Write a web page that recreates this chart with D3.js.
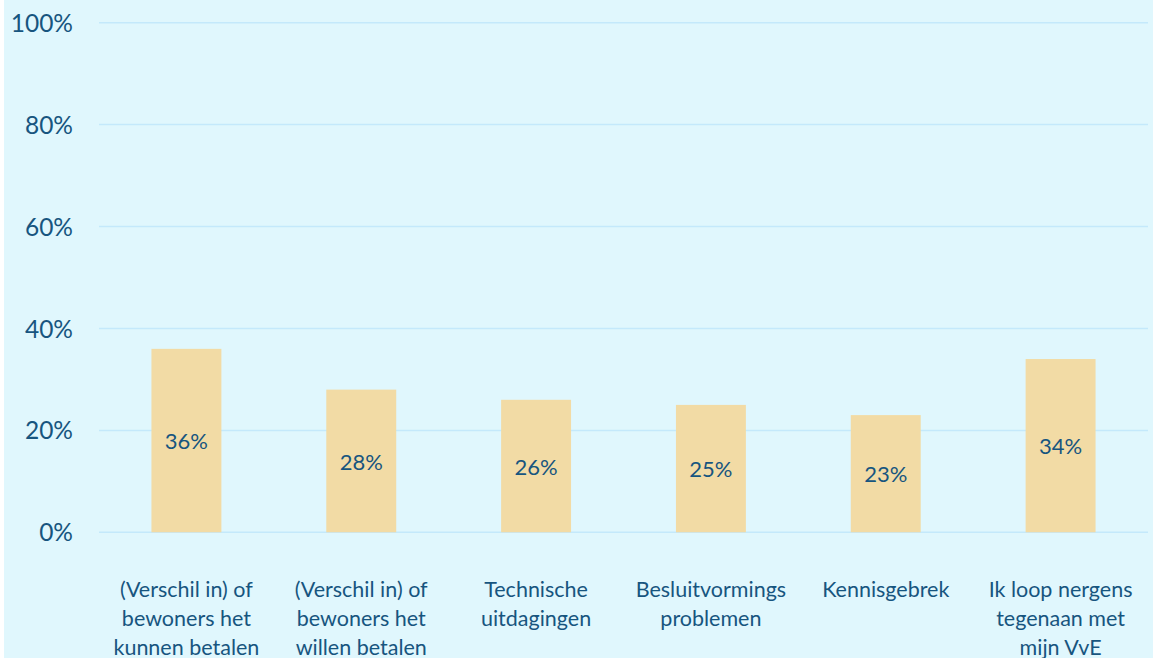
<!DOCTYPE html>
<html><head><meta charset="utf-8">
<script src="https://cdn.jsdelivr.net/npm/d3@7"></script>
<style>
html,body{margin:0;padding:0;background:#fff;}
svg{display:block;}
text{font-family:"Source Sans Pro",Lato,"Noto Sans",sans-serif;fill:#17557f;}
</style></head><body>
<script>
const categories = [
  ["(Verschil in) of","bewoners het","kunnen betalen"],
  ["(Verschil in) of","bewoners het","willen betalen"],
  ["Technische","uitdagingen"],
  ["Besluitvormings","problemen"],
  ["Kennisgebrek"],
  ["Ik loop nergens","tegenaan met","mijn VvE"]
];
const values = [36, 28, 26, 25, 23, 34];
const yTicks = [0, 20, 40, 60, 80, 100];

const W = 1153, H = 658;
const svg = d3.select("body").append("svg").attr("width", W).attr("height", H);
svg.append("rect").attr("x", 4).attr("y", 0).attr("width", W - 4).attr("height", H).attr("fill", "#e0f7fd");

const x = d3.scaleBand().domain(d3.range(categories.length)).range([99, 1148]).paddingInner(0.6).paddingOuter(0.3);
const y = d3.scaleLinear().domain([0, 100]).range([532.3, 22.7]);

const grid = svg.append("g");
grid.selectAll("line").data(yTicks).join("line")
  .attr("x1", 99).attr("x2", 1148)
  .attr("y1", d => y(d)).attr("y2", d => y(d))
  .attr("stroke", "#c4e9fb").attr("stroke-width", 1.5);

const yAxis = d3.axisLeft(y).tickValues(yTicks).tickFormat(d => d + "%").tickSize(0).tickPadding(0);
const ga = svg.append("g").attr("transform", "translate(73,0)").call(yAxis);
ga.select(".domain").remove();
ga.selectAll("text").attr("font-size", 24.5).attr("font-family", null).attr("fill", "#17557f").attr("dy", "0.35em");

svg.append("g").selectAll("rect").data(values).join("rect")
  .attr("x", (d, i) => x(i)).attr("width", x.bandwidth())
  .attr("y", d => y(d)).attr("height", d => y(0) - y(d))
  .attr("fill", "#f2dba5");

svg.append("g").selectAll("text").data(values).join("text")
  .attr("x", (d, i) => x(i) + x.bandwidth() / 2)
  .attr("y", d => (y(d) + y(0)) / 2 + 1)
  .attr("dy", "0.35em").attr("text-anchor", "middle").attr("font-size", 22)
  .text(d => d + "%");

const xl = svg.append("g").selectAll("text").data(categories).join("text")
  .attr("text-anchor", "middle").attr("font-size", 21.5)
  .attr("x", (d, i) => x(i) + x.bandwidth() / 2)
  .attr("y", 597);
xl.selectAll("tspan").data(d => d).join("tspan")
  .attr("x", function(){ return this.parentNode.getAttribute("x"); })
  .attr("dy", (d, i) => i === 0 ? 0 : 29)
  .text(d => d);
</script>
</body></html>
